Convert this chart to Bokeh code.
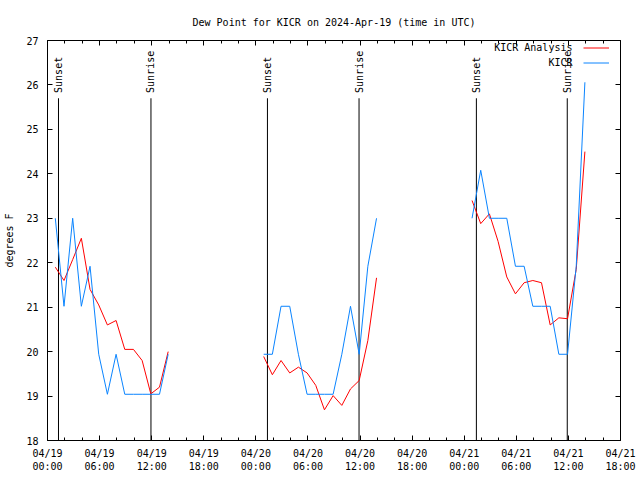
import math
import pandas as pd
from bokeh.plotting import figure
from bokeh.models import (FixedTicker, LinearAxis, DatetimeAxis, Legend, LegendItem,
                          ColumnDataSource, Label)
from bokeh.core.properties import value
from bokeh.embed import file_html
from bokeh.resources import INLINE

FONT = "DejaVu Sans Mono"
FS = "10px"
RED = "#ff0000"
BLUE = "#0a84ff"

# ---------------- data ----------------
day1_times = ["2024-04-19 00:54", "2024-04-19 01:54", "2024-04-19 02:54", "2024-04-19 03:54",
              "2024-04-19 04:54", "2024-04-19 05:54", "2024-04-19 06:54", "2024-04-19 07:54",
              "2024-04-19 08:54", "2024-04-19 09:54", "2024-04-19 10:54", "2024-04-19 11:54",
              "2024-04-19 12:54", "2024-04-19 13:54"]
day2_times = ["2024-04-20 00:54", "2024-04-20 01:54", "2024-04-20 02:54", "2024-04-20 03:54",
              "2024-04-20 04:54", "2024-04-20 05:54", "2024-04-20 06:54", "2024-04-20 07:54",
              "2024-04-20 08:54", "2024-04-20 09:54", "2024-04-20 10:54", "2024-04-20 11:54",
              "2024-04-20 12:54", "2024-04-20 13:54"]
day3_times = ["2024-04-21 00:54", "2024-04-21 01:54", "2024-04-21 02:54", "2024-04-21 03:54",
              "2024-04-21 04:54", "2024-04-21 05:54", "2024-04-21 06:54", "2024-04-21 07:54",
              "2024-04-21 08:54", "2024-04-21 09:54", "2024-04-21 10:54", "2024-04-21 11:54",
              "2024-04-21 12:54", "2024-04-21 13:54"]

analysis_day1 = [21.9, 21.6, 22.07, 22.55, 21.4, 21.05, 20.6, 20.7, 20.05, 20.05, 19.8, 19.05, 19.2, 20.0]
analysis_day2 = [19.89, 19.48, 19.8, 19.52, 19.65, 19.52, 19.24, 18.69, 19.01, 18.79, 19.16, 19.35, 20.25, 21.66]
analysis_day3 = [23.4, 22.88, 23.1, 22.48, 21.68, 21.3, 21.55, 21.6, 21.55, 20.6, 20.76, 20.74, 21.85, 24.5]

obs_day1 = [23.0, 21.02, 23.0, 21.02, 21.92, 19.94, 19.04, 19.94, 19.04, 19.04, 19.04, 19.04, 19.04, 19.94]
obs_day2 = [19.94, 19.94, 21.02, 21.02, 19.94, 19.04, 19.04, 19.04, 19.04, 19.94, 21.02, 19.94, 21.92, 23.0]
obs_day3 = [23.0, 24.08, 23.0, 23.0, 23.0, 21.92, 21.92, 21.02, 21.02, 21.02, 19.94, 19.94, 21.92, 26.06]

sun_event_times = ["2024-04-19 01:16", "2024-04-19 11:55", "2024-04-20 01:20",
                   "2024-04-20 11:53", "2024-04-21 01:24", "2024-04-21 11:52"]
sun_event_labels = ["Sunset", "Sunrise", "Sunset", "Sunrise", "Sunset", "Sunrise"]

series_names = ["KICR Analysis", "KICR"]

x_tick_times = ["2024-04-19 00:00", "2024-04-19 06:00", "2024-04-19 12:00", "2024-04-19 18:00",
                "2024-04-20 00:00", "2024-04-20 06:00", "2024-04-20 12:00", "2024-04-20 18:00",
                "2024-04-21 00:00", "2024-04-21 06:00", "2024-04-21 12:00", "2024-04-21 18:00"]
x_tick_labels = ["04/19\n00:00", "04/19\n06:00", "04/19\n12:00", "04/19\n18:00",
                 "04/20\n00:00", "04/20\n06:00", "04/20\n12:00", "04/20\n18:00",
                 "04/21\n00:00", "04/21\n06:00", "04/21\n12:00", "04/21\n18:00"]
y_ticks = [18, 19, 20, 21, 22, 23, 24, 25, 26, 27]

# ---------------- helpers ----------------
def ms(t):
    return int(pd.Timestamp(t).value // 10**6)

x_major = [ms(t) for t in x_tick_times]
x_minor = [ms(t) for t in pd.date_range(x_tick_times[0], x_tick_times[-1], freq="2h")]
label_map = {k: v for k, v in zip(x_major, x_tick_labels)}

p = figure(width=640, height=480, x_axis_type="datetime",
           x_range=(pd.Timestamp(x_tick_times[0]), pd.Timestamp(x_tick_times[-1])),
           y_range=(y_ticks[0], y_ticks[-1]),
           output_backend="svg", toolbar_location=None,
           min_border_left=47, min_border_right=20, min_border_top=40, min_border_bottom=40)

p.title.text = "Dew Point for KICR on 2024-Apr-19 (time in UTC)"
p.title.align = "center"
p.title.text_font = FONT
p.title.text_font_size = FS
p.title.text_font_style = "normal"
p.title.text_color = "black"
p.title.standoff = 25

p.outline_line_color = "black"
p.outline_line_width = 1
p.outline_line_alpha = 1
p.xgrid.visible = False
p.ygrid.visible = False
p.background_fill_color = "white"
p.border_fill_color = "white"

# main axes
xa = p.xaxis[0]
xa.ticker = FixedTicker(ticks=x_major, minor_ticks=x_minor)
xa.major_label_overrides = label_map
ya = p.yaxis[0]
ya.ticker = FixedTicker(ticks=y_ticks, minor_ticks=[])
ya.axis_label = "degrees F"
ya.axis_label_text_font = FONT
ya.axis_label_text_font_size = FS
ya.axis_label_text_font_style = "normal"
ya.axis_label_text_color = "black"
ya.axis_label_standoff = 8

# mirrored tick marks (no labels) on top and right
top_ax = DatetimeAxis(ticker=FixedTicker(ticks=x_major, minor_ticks=x_minor))
right_ax = LinearAxis(ticker=FixedTicker(ticks=y_ticks, minor_ticks=[]))
p.add_layout(top_ax, "above")
p.add_layout(right_ax, "right")

for ax in [xa, ya, top_ax, right_ax]:
    ax.axis_line_color = None
    ax.major_tick_in = 5
    ax.major_tick_out = 0
    ax.minor_tick_in = 3
    ax.minor_tick_out = 0
    ax.major_tick_line_color = "black"
    ax.minor_tick_line_color = "black"
    ax.major_label_text_font = FONT
for ax in [xa, ya]:
    ax.major_label_text_font_size = FS
    ax.major_label_text_color = "black"
for ax in [top_ax, right_ax]:
    ax.major_label_standoff = 0
    ax.major_label_text_font_size = "1px"
    ax.major_label_text_color = None
xa.major_label_standoff = 7
xa.major_label_text_line_height = 1.25
ya.major_label_standoff = 9

# sunrise / sunset markers
sun_src = ColumnDataSource(dict(t=pd.to_datetime(sun_event_times), label=sun_event_labels))
p.segment(x0="t", x1="t", y0=18, y1=25.7, source=sun_src, line_color="black", line_width=1)
p.text(x="t", y=25.82, text="label", source=sun_src, angle=math.pi / 2,
       text_align="left", text_baseline="middle", text_font=value(FONT),
       text_font_size=FS, text_color="black")

# series
red_rs, blue_rs = [], []
for times, ana, obs in [(day1_times, analysis_day1, obs_day1),
                        (day2_times, analysis_day2, obs_day2),
                        (day3_times, analysis_day3, obs_day3)]:
    tt = pd.to_datetime(times)
    red_rs.append(p.line(tt, ana, line_color=RED, line_width=1))
    blue_rs.append(p.line(tt, obs, line_color=BLUE, line_width=1))

# key: line samples from a Legend, right-justified names as labels to their left
legend = Legend(items=[LegendItem(label=series_names[0], renderers=[red_rs[0]]),
                       LegendItem(label=series_names[1], renderers=[blue_rs[0]])],
                location=(536, 370), glyph_width=26, glyph_height=15, label_height=15,
                label_standoff=0, padding=0, spacing=0, margin=0,
                border_line_color=None, background_fill_alpha=0,
                label_text_font=FONT, label_text_font_size="1px", label_text_color=None)
p.add_layout(legend)

key_x = ms("2024-04-21 12:28")
for name, ky in zip(series_names, [26.84, 26.5]):
    p.add_layout(Label(x=key_x, y=ky, text=name, text_align="right", text_baseline="middle",
                       text_font=FONT, text_font_size=FS, text_color="black"))

open("out.html", "w").write(file_html(p, INLINE))
